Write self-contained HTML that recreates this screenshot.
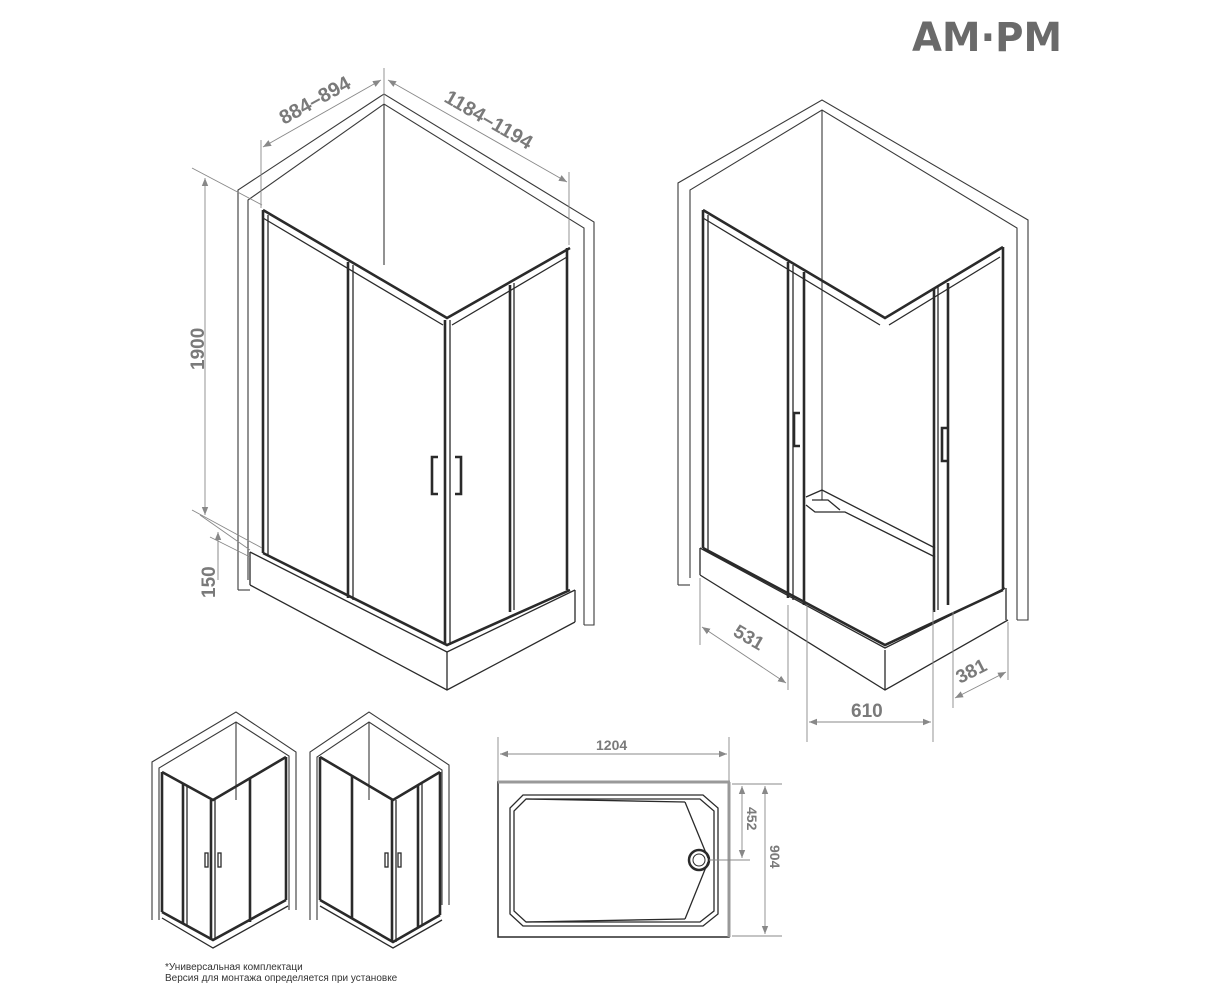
<!DOCTYPE html>
<html><head><meta charset="utf-8"><style>
html,body{margin:0;padding:0;background:#fff;}
svg{display:block;font-family:"Liberation Sans",sans-serif;}
.k{stroke:#2a2a2a;stroke-width:1.3;fill:none;}
.t{stroke:#2a2a2a;stroke-width:2.6;fill:none;}
.w{stroke:#3a3a3a;stroke-width:1.1;fill:none;}
.d{stroke:#888;stroke-width:0.9;fill:none;}
.dt{fill:#7a7a7a;font-weight:bold;}
</style></head><body>
<svg width="1223" height="1000" viewBox="0 0 1223 1000" xmlns="http://www.w3.org/2000/svg">
<defs>
<marker id="a" viewBox="0 0 10 10" refX="10" refY="5" markerWidth="9" markerHeight="9" orient="auto-start-reverse"><path d="M0,1 L10,5 L0,9z" fill="#888"/></marker>
</defs>
<text x="912" y="51" font-size="40" font-weight="bold" fill="#6a6a6a" textLength="150" lengthAdjust="spacingAndGlyphs" font-family="DejaVu Sans, sans-serif">AM·PM</text>

<!-- Drawing 1 -->
<g>
<polyline class="w" points="238,590 238,190 384,94 594,222 594,625 584,625"/>
<polyline class="w" points="250,590 238,590"/>
<polyline class="w" points="248,580 248,200 384,104 584,228 584,625"/>
<line class="w" x1="384" y1="104" x2="384" y2="265"/>
<polyline class="k" points="250,552 447,652 575,590"/>
<polyline class="k" points="250,585 447,690 575,622"/>
<line class="k" x1="250" y1="552" x2="250" y2="585"/>
<line class="k" x1="447" y1="652" x2="447" y2="690"/>
<line class="k" x1="575" y1="590" x2="575" y2="622"/>
<polyline class="t" points="263,210 447,318 570,248"/>
<polyline class="k" points="263,218 443,325"/>
<polyline class="k" points="452,325 567,257"/>
<polyline class="t" points="263,553 447,645 570,590"/>
<line class="t" x1="263" y1="210" x2="263" y2="553"/>
<line class="k" x1="268" y1="215" x2="268" y2="555"/>
<line class="t" x1="348" y1="262" x2="348" y2="598"/>
<line class="k" x1="353" y1="265" x2="353" y2="600"/>
<line class="t" x1="445" y1="320" x2="445" y2="645"/>
<line class="k" x1="450" y1="320" x2="450" y2="645"/>
<line class="t" x1="510" y1="285" x2="510" y2="612"/>
<line class="k" x1="514" y1="283" x2="514" y2="610"/>
<line class="t" x1="567" y1="248" x2="567" y2="590"/>
<path class="t" d="M438,457 H432 V494 H438"/>
<path class="t" d="M455,457 H461 V494 H455"/>
<line class="d" x1="205" y1="178" x2="205" y2="515" marker-start="url(#a)" marker-end="url(#a)"/>
<line class="d" x1="192" y1="168" x2="262" y2="205"/>
<line class="d" x1="192" y1="510" x2="262" y2="548"/>
<line class="d" x1="200" y1="515" x2="250" y2="550"/>
<line class="d" x1="210" y1="537" x2="250" y2="557"/>
<line class="d" x1="218" y1="532" x2="218" y2="560" marker-start="url(#a)"/>
<line class="d" x1="218" y1="540" x2="218" y2="580"/>
<text class="dt" font-size="19" transform="translate(204,370) rotate(-90)">1900</text>
<text class="dt" font-size="19" transform="translate(215,598) rotate(-90)">150</text>
<line class="d" x1="261" y1="140" x2="261" y2="208"/>
<line class="d" x1="384" y1="68" x2="384" y2="104"/>
<line class="d" x1="569" y1="172" x2="569" y2="245"/>
<line class="d" x1="263" y1="147" x2="381" y2="80" marker-start="url(#a)" marker-end="url(#a)"/>
<line class="d" x1="388" y1="80" x2="567" y2="182" marker-start="url(#a)" marker-end="url(#a)"/>
<text class="dt" font-size="20" transform="translate(284,125) rotate(-29)">884–894</text>
<text class="dt" font-size="20" transform="translate(443,101) rotate(30)">1184–1194</text>
</g>

<!-- Drawing 2 -->
<g>
<polyline class="w" points="678,585 678,183 822,100 1028,220 1028,620 1017,620"/>
<line class="w" x1="678" y1="585" x2="690" y2="585"/>
<polyline class="w" points="690,578 690,190 822,110 1017,228 1017,620"/>
<line class="w" x1="822" y1="110" x2="822" y2="500"/>
<polyline class="k" points="700,548 885,648 1005,588"/>
<polyline class="k" points="700,575 885,690 1008,620"/>
<line class="k" x1="700" y1="548" x2="700" y2="575"/>
<line class="k" x1="885" y1="650" x2="885" y2="690"/>
<line class="k" x1="1006" y1="588" x2="1006" y2="620"/>
<polyline class="t" points="703,210 885,318 1003,247"/>
<polyline class="k" points="703,218 880,325"/>
<polyline class="k" points="889,325 1000,257"/>
<polyline class="t" points="703,548 885,645 1003,590"/>
<line class="t" x1="703" y1="210" x2="703" y2="548"/>
<line class="k" x1="708" y1="215" x2="708" y2="550"/>
<line class="t" x1="788" y1="262" x2="788" y2="598"/>
<line class="k" x1="793" y1="265" x2="793" y2="600"/>
<line class="t" x1="804" y1="272" x2="804" y2="605"/>
<line class="t" x1="934" y1="288" x2="934" y2="612"/>
<line class="k" x1="938" y1="286" x2="938" y2="610"/>
<line class="t" x1="948" y1="283" x2="948" y2="605"/>
<line class="t" x1="1003" y1="247" x2="1003" y2="590"/>
<path class="t" d="M800,413 H794 V446 H800"/>
<path class="t" d="M948,428 H942 V461 H948"/>
<polyline class="k" points="806,497 822,490 935,548"/>
<polyline class="k" points="806,505 815,512 845,512 935,557"/>
<path class="k" d="M812,500 L828,500 L840,510"/>
<line class="d" x1="700" y1="578" x2="700" y2="645"/>
<line class="d" x1="788" y1="605" x2="788" y2="690"/>
<line class="d" x1="702" y1="627" x2="786" y2="683" marker-start="url(#a)" marker-end="url(#a)"/>
<text class="dt" font-size="19" transform="translate(732,635) rotate(30)">531</text>
<line class="d" x1="807" y1="605" x2="807" y2="742"/>
<line class="d" x1="933" y1="610" x2="933" y2="742"/>
<line class="d" x1="809" y1="722" x2="931" y2="722" marker-start="url(#a)" marker-end="url(#a)"/>
<text class="dt" font-size="19" x="851" y="717">610</text>
<line class="d" x1="1008" y1="622" x2="1008" y2="680"/>
<line class="d" x1="953" y1="612" x2="953" y2="708"/>
<line class="d" x1="955" y1="698" x2="1006" y2="672" marker-start="url(#a)" marker-end="url(#a)"/>
<text class="dt" font-size="19" transform="translate(960,684) rotate(-27)">381</text>
</g>

<!-- small 1 -->
<g>
<polyline class="w" points="152,920 152,762 236,712 296,752 296,910"/>
<polyline class="w" points="159,920 159,768 236,722 289,756 289,910"/>
<line class="w" x1="236" y1="722" x2="236" y2="800"/>
<polyline class="t" points="162,772 213,800 286,757"/>
<polyline class="t" points="162,912 213,940 286,900"/>
<polyline class="k" points="162,918 213,948 288,906"/>
<line class="t" x1="162" y1="772" x2="162" y2="912"/>
<line class="t" x1="183" y1="783" x2="183" y2="924"/>
<line class="k" x1="187" y1="785" x2="187" y2="926"/>
<line class="t" x1="211" y1="800" x2="211" y2="940"/>
<line class="k" x1="215" y1="800" x2="215" y2="940"/>
<line class="t" x1="250" y1="778" x2="250" y2="922"/>
<line class="t" x1="286" y1="757" x2="286" y2="900"/>
<rect class="k" x="205" y="853" width="3" height="14"/>
<rect class="k" x="218" y="853" width="3" height="14"/>
</g>
<!-- small 2 -->
<g>
<polyline class="w" points="310,920 310,752 369,712 449,765 449,905"/>
<polyline class="w" points="317,920 317,757 369,722 442,770 442,905"/>
<line class="w" x1="369" y1="722" x2="369" y2="800"/>
<polyline class="t" points="320,757 393,800 440,772"/>
<polyline class="t" points="320,900 393,942 440,915"/>
<polyline class="k" points="320,906 393,948 442,920"/>
<line class="t" x1="320" y1="757" x2="320" y2="900"/>
<line class="t" x1="352" y1="775" x2="352" y2="918"/>
<line class="t" x1="392" y1="800" x2="392" y2="942"/>
<line class="k" x1="396" y1="800" x2="396" y2="942"/>
<line class="t" x1="418" y1="785" x2="418" y2="928"/>
<line class="k" x1="422" y1="783" x2="422" y2="926"/>
<line class="t" x1="440" y1="772" x2="440" y2="915"/>
<rect class="k" x="385" y="853" width="3" height="14"/>
<rect class="k" x="398" y="853" width="3" height="14"/>
</g>
<text x="165" y="970" font-size="10" fill="#333">*Универсальная комплектаци</text>
<text x="165" y="981" font-size="10" fill="#333">Версия для монтажа определяется при установке</text>

<!-- tray plan -->
<g>
<line class="d" x1="498" y1="737" x2="498" y2="782"/>
<line class="d" x1="729" y1="737" x2="729" y2="782"/>
<line class="d" x1="500" y1="754" x2="727" y2="754" marker-start="url(#a)" marker-end="url(#a)"/>
<text class="dt" font-size="14" x="596" y="750">1204</text>
<rect x="498" y="782" width="231" height="155" fill="none" stroke="#2a2a2a" stroke-width="1.5"/>
<line x1="498" y1="782" x2="730" y2="782" stroke="#999" stroke-width="3"/>
<line x1="729" y1="782" x2="729" y2="937" stroke="#999" stroke-width="3"/>
<path class="k" d="M523,795 L703,795 L718,808 L718,914 L703,926 L523,926 L510,914 L510,808 Z"/>
<path class="k" d="M526,799 L700,799 L714,811 L714,911 L700,922 L526,922 L514,911 L514,811 Z"/>
<line class="k" x1="526" y1="799" x2="685" y2="802"/>
<line class="k" x1="526" y1="922" x2="685" y2="919"/>
<line class="k" x1="685" y1="802" x2="708" y2="858"/>
<line class="k" x1="685" y1="919" x2="708" y2="862"/>
<circle cx="699" cy="860" r="10" fill="none" stroke="#2a2a2a" stroke-width="2.5"/>
<circle cx="699" cy="860" r="6" fill="none" stroke="#2a2a2a" stroke-width="1"/>
<line class="d" x1="709" y1="860" x2="750" y2="860"/>
<line class="d" x1="732" y1="784" x2="782" y2="784"/>
<line class="d" x1="732" y1="936" x2="782" y2="936"/>
<line class="d" x1="742" y1="786" x2="742" y2="858" marker-start="url(#a)" marker-end="url(#a)"/>
<line class="d" x1="765" y1="786" x2="765" y2="934" marker-start="url(#a)" marker-end="url(#a)"/>
<text class="dt" font-size="14" transform="translate(747,807) rotate(90)">452</text>
<text class="dt" font-size="14" transform="translate(770,845) rotate(90)">904</text>
</g>
</svg>
</body></html>
